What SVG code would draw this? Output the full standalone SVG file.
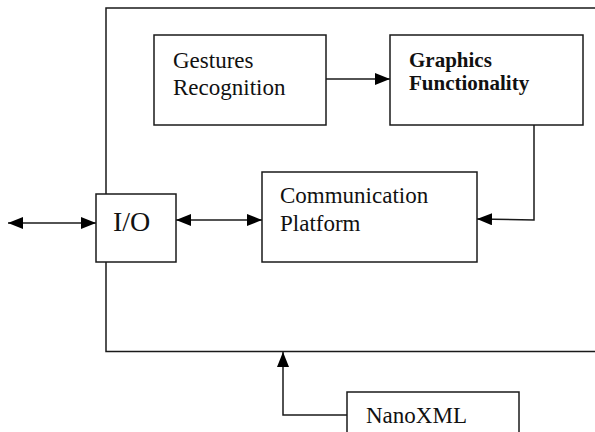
<svg xmlns="http://www.w3.org/2000/svg" width="595" height="432" viewBox="0 0 595 432">
<style>
.box{fill:#fff;stroke:#1a1a1a;stroke-width:1.5}
.ln{fill:none;stroke:#1a1a1a;stroke-width:1.5}
.t{font-family:"Liberation Serif","Times New Roman",serif;font-size:23px;fill:#111}
.b{font-family:"Liberation Serif","Times New Roman",serif;font-size:21px;font-weight:bold;fill:#111}
</style>
<defs>
<marker id="ah" viewBox="0 0 15 12" refX="15" refY="6" markerWidth="15" markerHeight="12" markerUnits="userSpaceOnUse" orient="auto-start-reverse">
<path d="M0,0 L15,6 L0,12 z" fill="#000"/>
</marker>
</defs>
<g id="frame"><path class="ln" d="M595,8 H106 V351.5 H595"/></g>
<g id="connectors">
<line class="ln" x1="8" y1="223" x2="96" y2="223" marker-start="url(#ah)" marker-end="url(#ah)"/>
<line class="ln" x1="176" y1="220" x2="262" y2="220" marker-start="url(#ah)" marker-end="url(#ah)"/>
<line class="ln" x1="326" y1="79" x2="390" y2="79" marker-end="url(#ah)"/>
<path class="ln" d="M534,125 V220 L477,219" marker-end="url(#ah)"/>
<path class="ln" d="M347,415 H283 V352" marker-end="url(#ah)"/>
</g>
<g id="gestures">
<rect class="box" x="154" y="35" width="172" height="90"/>
<text class="t" x="173" y="68">Gestures</text>
<text class="t" x="173" y="95">Recognition</text>
</g>
<g id="graphics">
<rect class="box" x="390" y="35" width="193" height="90"/>
<text class="b" x="409" y="67">Graphics</text>
<text class="b" x="409" y="90">Functionality</text>
</g>
<g id="io">
<rect class="box" x="96" y="194" width="80" height="68"/>
<text class="t" x="113" y="231" style="font-size:28px">I/O</text>
</g>
<g id="comm">
<rect class="box" x="262" y="172" width="215" height="90"/>
<text class="t" x="280" y="203">Communication</text>
<text class="t" x="280" y="231">Platform</text>
</g>
<g id="nanoxml">
<rect class="box" x="347" y="392" width="172" height="60"/>
<text class="t" x="366" y="423">NanoXML</text>
</g>
</svg>
